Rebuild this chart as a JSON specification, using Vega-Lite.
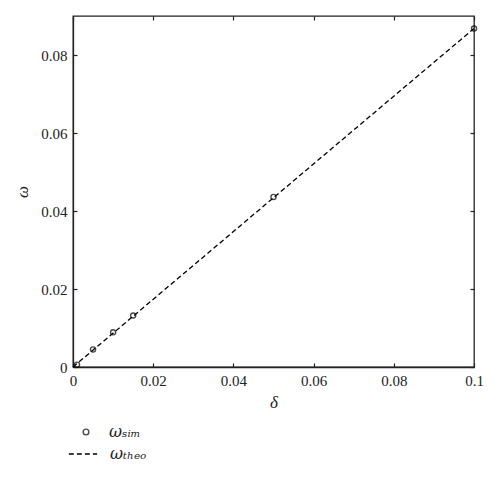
{
  "$schema": "https://vega.github.io/schema/vega-lite/v6.json",
  "autosize": "none",
  "width": 401,
  "height": 351,
  "padding": {"left": 73, "top": 16, "right": 26, "bottom": 114},
  "background": "white",
  "config": {
    "view": {"stroke": "#222", "strokeWidth": 1.3},
    "font": "Liberation Serif",
    "axis": {
      "labelFont": "Liberation Serif",
      "labelFontSize": 15,
      "labelColor": "#222",
      "labelFlush": false,
      "titleFont": "Liberation Serif",
      "titleFontStyle": "italic",
      "titleFontWeight": "normal",
      "titleFontSize": 17,
      "titleColor": "#222",
      "domainColor": "#222",
      "domainWidth": 1.3,
      "tickColor": "#222",
      "tickSize": -4,
      "tickWidth": 1.2,
      "labelPadding": 10,
      "format": "~g",
      "grid": false
    },
    "legend": {
      "labelFont": "DejaVu Serif",
      "labelFontSize": 16,
      "labelFontStyle": "italic",
      "labelColor": "#222"
    }
  },
  "datasets": {
    "sim": [
      {"delta": 0.001, "omega": 0.0006, "series": "ωₛᵢₘ"},
      {"delta": 0.005, "omega": 0.0045, "series": "ωₛᵢₘ"},
      {"delta": 0.01, "omega": 0.0089, "series": "ωₛᵢₘ"},
      {"delta": 0.015, "omega": 0.0132, "series": "ωₛᵢₘ"},
      {"delta": 0.05, "omega": 0.0436, "series": "ωₛᵢₘ"},
      {"delta": 0.1, "omega": 0.0868, "series": "ωₛᵢₘ"}
    ],
    "theo": [
      {"delta": 0, "omega": 0, "series": "ωₜₕₑₒ"},
      {"delta": 0.1, "omega": 0.0868, "series": "ωₜₕₑₒ"}
    ]
  },
  "layer": [
    {
      "data": {"name": "theo"},
      "mark": {"type": "line", "color": "#000", "strokeWidth": 1.3},
      "encoding": {
        "x": {
          "field": "delta", "type": "quantitative",
          "scale": {"domain": [0, 0.1], "nice": false, "zero": false},
          "axis": {"values": [0, 0.02, 0.04, 0.06, 0.08, 0.1], "title": "δ", "titlePadding": 6}
        },
        "y": {
          "field": "omega", "type": "quantitative",
          "scale": {"domain": [0, 0.09], "nice": false, "zero": false},
          "axis": {"values": [0, 0.02, 0.04, 0.06, 0.08], "title": "ω", "titlePadding": 9}
        },
        "strokeDash": {
          "field": "series", "type": "nominal",
          "scale": {"range": [[5, 3]]},
          "legend": {"title": null, "orient": "none", "legendX": -5, "legendY": 423, "symbolSize": 800, "symbolStrokeWidth": 1.3, "symbolStrokeColor": "#000", "labelOffset": 12}
        }
      }
    },
    {
      "data": {"name": "sim"},
      "mark": {"type": "point", "shape": "circle", "filled": false, "color": "#000", "size": 26, "strokeWidth": 1.4},
      "encoding": {
        "x": {"field": "delta", "type": "quantitative", "scale": {"domain": [0, 0.1], "nice": false, "zero": false}, "axis": null},
        "y": {"field": "omega", "type": "quantitative", "scale": {"domain": [0, 0.09], "nice": false, "zero": false}, "axis": null},
        "shape": {
          "field": "series", "type": "nominal",
          "scale": {"range": ["circle"]},
          "legend": {"title": null, "orient": "none", "legendX": 5, "legendY": 408, "symbolSize": 32, "symbolStrokeColor": "#000", "symbolStrokeWidth": 1.4, "labelOffset": 15}
        }
      }
    },
    {
      "data": {"name": "theo"},
      "mark": {"type": "point", "opacity": 0},
      "encoding": {
        "x": {"field": "delta", "type": "quantitative", "scale": {"domain": [0, 0.1], "nice": false, "zero": false}, "axis": {"orient": "top", "values": [0, 0.02, 0.04, 0.06, 0.08, 0.1], "labels": false, "title": null, "domain": false}},
        "y": {"field": "omega", "type": "quantitative", "scale": {"domain": [0, 0.09], "nice": false, "zero": false}, "axis": {"orient": "right", "values": [0, 0.02, 0.04, 0.06, 0.08], "labels": false, "title": null, "domain": false}}
      }
    }
  ],
  "resolve": {"axis": {"x": "independent", "y": "independent"}}
}
